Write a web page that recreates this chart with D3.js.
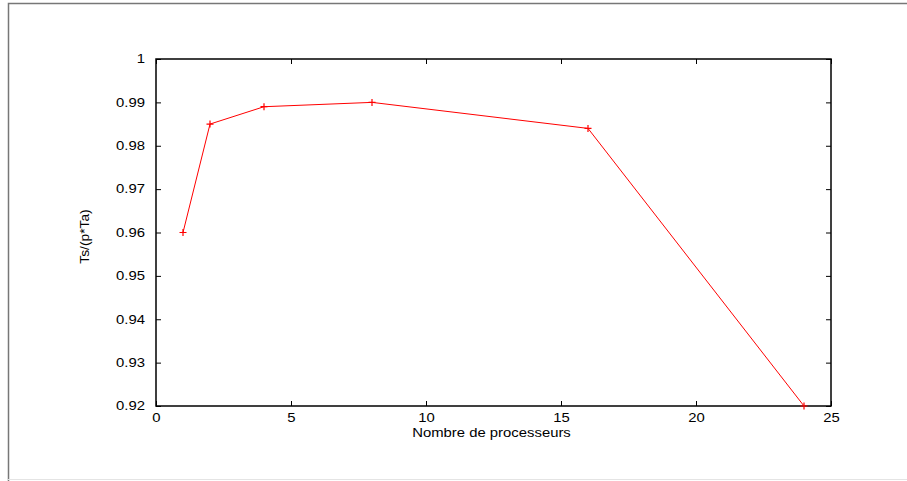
<!DOCTYPE html>
<html>
<head>
<meta charset="utf-8">
<script src="https://cdn.jsdelivr.net/npm/d3@7"></script>
<style>
  body { margin: 0; background: #fff; }
  text { font-family: "Liberation Sans", Arial, sans-serif; font-size: 12px; fill: #000; }
</style>
</head>
<body>
<svg id="chart" width="907" height="481"></svg>
<script>
// processors vs efficiency
var procs = [1, 2, 4, 8, 16, 24];
var efficiency = [0.96, 0.985, 0.989, 0.990, 0.984, 0.92];
var xTicks = [0, 5, 10, 15, 20, 25];
var yTicks = [0.92, 0.93, 0.94, 0.95, 0.96, 0.97, 0.98, 0.99, 1];

var svg = d3.select('#chart');

// plot box (note: "top" is taken by window.top, so use other names)
var plotL = 156, plotR = 831, plotT = 59, plotB = 406;

var x = d3.scaleLinear().domain([0, 25]).range([plotL, plotR]);
var y = d3.scaleLinear().domain([0.92, 1]).range([plotB, plotT]);

// gnuplot text looks wider than Helvetica, stretch it a bit
var stretch = 1.24;
function widen(sel) {
  sel.each(function() {
    var t = d3.select(this);
    var tx = +t.attr('x') || 0, ty = +t.attr('y') || 0;
    t.attr('x', 0).attr('y', 0)
      .attr('transform', 'translate(' + tx + ',' + ty + ') scale(' + stretch + ',1)');
  });
}

// outer frame (page border)
svg.append('path')
  .attr('d', 'M8.5,481 V3.5 H907')
  .attr('fill', 'none')
  .attr('stroke', '#777')
  .attr('stroke-width', 1.5);
svg.append('line')
  .attr('x1', 8).attr('x2', 907)
  .attr('y1', 479.5).attr('y2', 479.5)
  .attr('stroke', '#e4e4e4');

var tickLen = 5;

// bottom axis + mirrored top ticks
var xAxis = d3.axisBottom(x).tickValues(xTicks).tickSize(-tickLen).tickPadding(7)
  .tickFormat(d3.format('d'));
var gx = svg.append('g').attr('transform', 'translate(0,' + plotB + ')').call(xAxis);
var gxTop = svg.append('g').attr('transform', 'translate(0,' + plotT + ')')
  .call(d3.axisTop(x).tickValues(xTicks).tickSize(-tickLen).tickFormat(''));

// left axis + mirrored right ticks
var yAxis = d3.axisLeft(y).tickValues(yTicks).tickSize(-tickLen).tickPadding(11)
  .tickFormat(function(d) { return d === 1 ? '1' : d3.format('.2f')(d); });
var gy = svg.append('g').attr('transform', 'translate(' + plotL + ',0)').call(yAxis);
var gyRight = svg.append('g').attr('transform', 'translate(' + plotR + ',0)')
  .call(d3.axisRight(y).tickValues(yTicks).tickSize(-tickLen).tickFormat(''));

[gx, gxTop, gy, gyRight].forEach(function(g) {
  g.select('.domain').remove();
  g.selectAll('line').attr('stroke', '#000');
  g.selectAll('text').attr('font-family', null).attr('font-size', null).attr('fill', '#000');
});
widen(gx.selectAll('text'));
widen(gy.selectAll('text'));

// plot border
svg.append('rect')
  .attr('x', plotL).attr('y', plotT)
  .attr('width', plotR - plotL).attr('height', plotB - plotT)
  .attr('fill', 'none')
  .attr('stroke', '#000')
  .attr('stroke-width', 1.5);

// axis titles
svg.append('text')
  .attr('x', x(12.5) - 2).attr('y', 437)
  .attr('text-anchor', 'middle')
  .text('Nombre de processeurs')
  .call(widen);

svg.append('text')
  .attr('transform', 'translate(89,' + ((plotT + plotB) / 2 + 4) + ') rotate(-90) scale(1.15,1)')
  .attr('text-anchor', 'middle')
  .text('Ts/(p*Ta)');

// the series
var pts = procs.map(function(p, i) { return [p, efficiency[i]]; });

var line = d3.line()
  .x(function(d) { return x(d[0]); })
  .y(function(d) { return y(d[1]); });

svg.append('path')
  .datum(pts)
  .attr('d', line)
  .attr('fill', 'none')
  .attr('stroke', '#ff0000')
  .attr('stroke-width', 1);

// + markers
var m = 3.5;
svg.selectAll('.pt')
  .data(pts)
  .enter().append('path')
  .attr('class', 'pt')
  .attr('d', function(d) {
    var cx = x(d[0]), cy = y(d[1]);
    return 'M' + (cx - m) + ',' + cy + 'H' + (cx + m) + 'M' + cx + ',' + (cy - m) + 'V' + (cy + m);
  })
  .attr('stroke', '#ff0000')
  .attr('stroke-width', 1.2);
</script>
</body>
</html>
